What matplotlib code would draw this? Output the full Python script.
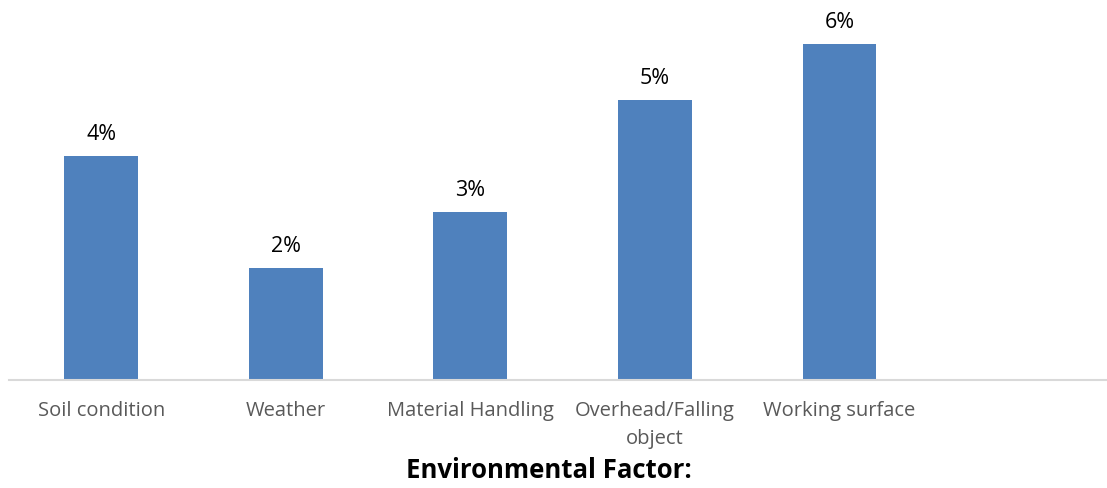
import matplotlib.pyplot as plt

categories = ['Soil condition', 'Weather', 'Material Handling',
              'Overhead/Falling\nobject', 'Working surface']
values = [4, 2, 3, 5, 6]
labels = ['4%', '2%', '3%', '5%', '6%']

plt.rcParams['font.family'] = ['Open Sans', 'DejaVu Sans']

fig = plt.figure(figsize=(11.07, 4.88), dpi=100)
ax = fig.add_axes([9 / 1107, 108 / 488, 1 - 9 / 1107, 380 / 488])

x = list(range(len(values)))
bars = ax.bar(x, values, width=0.4, color='#4f81bd')
for b, t in zip(bars, labels):
    ax.annotate(t, (b.get_x() + b.get_width() / 2, b.get_height()),
                xytext=(0, 8), textcoords='offset points',
                ha='center', va='bottom', fontsize=15.5, color='black')

ax.set_xlim(-0.5, 5.45)
ax.set_ylim(0, 380 / 56)
ax.set_xticks(x)
ax.set_xticklabels(categories, fontsize=14.5, color='#595959', linespacing=1.55)
ax.tick_params(axis='x', length=0, pad=15)
ax.set_yticks([])
for s in ['top', 'right', 'left']:
    ax.spines[s].set_visible(False)
ax.spines['bottom'].set_color('#d9d9d9')
ax.spines['bottom'].set_linewidth(1.5)

fig.text(549 / 1107, 1 - 470 / 488, 'Environmental Factor:', ha='center', va='center',
         fontsize=18.5, fontweight='bold', color='black')

fig.savefig('out.png', dpi=100)
